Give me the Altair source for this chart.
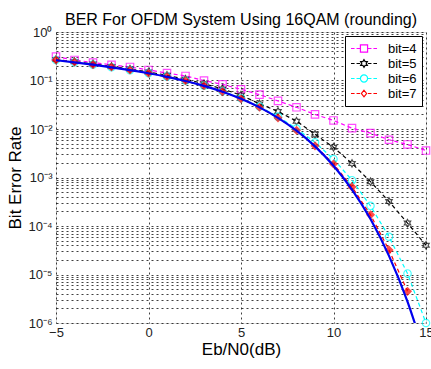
import altair as alt
import pandas as pd

# ---------------- data ----------------
snr_db = [-5, -4, -3, -2, -1, 0, 1, 2, 3, 4, 5, 6, 7, 8, 9, 10, 11, 12, 13, 14, 15]

series_names = ["bit=4", "bit=5", "bit=6", "bit=7"]

ber_bit4 = [0.31, 0.265, 0.235, 0.21, 0.19, 0.165, 0.142, 0.124, 0.100, 0.083,
            0.066, 0.051, 0.038, 0.028, 0.020, 0.0150, 0.0104, 0.0082, 0.0060,
            0.0048, 0.0036]
ber_bit5 = [0.27, 0.245, 0.22, 0.195, 0.172, 0.15, 0.128, 0.106, 0.086, 0.067,
            0.050, 0.033, 0.023, 0.0145, 0.0078, 0.0042, 0.00195, 0.00082,
            0.00032, 0.000115, 0.00004]
ber_bit6 = [0.264, 0.238, 0.212, 0.188, 0.164, 0.142, 0.12, 0.099, 0.078, 0.06,
            0.043, 0.029, 0.018, 0.0102, 0.0053, 0.0024, 0.00088, 0.00026,
            0.00006, 0.0000105, 0.000001]
ber_bit7 = [0.265, 0.24, 0.213, 0.19, 0.165, 0.142, 0.12, 0.099, 0.078, 0.059,
            0.042, 0.028, 0.017, 0.0094, 0.0045, 0.0019, 0.00064, 0.00017,
            0.000032, 0.0000045, None]
ber_theory = [0.262, 0.2367, 0.2117, 0.1872, 0.1637, 0.1409, 0.1190, 0.0978,
              0.0775, 0.0586, 0.0419, 0.0279, 0.01697, 0.00925, 0.00439,
              0.00175, 0.000565, 0.000139, 0.0000242, 0.00000277, 0.000000184]

x_tick_values = [-5, 0, 5, 10, 15]
y_grid_values = [k * 10.0 ** d for d in range(-6, 0) for k in range(1, 10)] + [1.0]

# ---------------- styles ----------------
series_colors = ["#ff00ff", "#000000", "#00ffff", "#ff0000"]
hexagram = ("M0,-1L-0.289,-0.5L-0.866,-0.5L-0.577,0L-0.866,0.5L-0.289,0.5L0,1"
            "L0.289,0.5L0.866,0.5L0.577,0L0.866,-0.5L0.289,-0.5Z")
marker_shapes = ["square", hexagram, "circle", "diamond"]
marker_fills = ["transparent", "transparent", "transparent", "#ff0000"]

dash_line = "M-1,0H-0.45M-0.15,0H0.4M1.6,0H2.15M2.45,0H3"
legend_shapes = [
    dash_line + "M0.45,-0.55H1.55V0.55H0.45Z",
    dash_line + ("M1,-0.6L0.827,-0.3L0.48,-0.3L0.654,0L0.48,0.3L0.827,0.3L1,0.6"
                 "L1.173,0.3L1.52,0.3L1.346,0L1.52,-0.3L1.173,-0.3Z"),
    dash_line + "M1.55,0A0.55,0.55,0,1,1,0.45,0A0.55,0.55,0,1,1,1.55,0Z",
    dash_line + "M1,-0.5L1.4,0L1,0.5L0.6,0Z",
]

FONT = "Liberation Sans"

rows = []
for name, vals in zip(series_names, [ber_bit4, ber_bit5, ber_bit6, ber_bit7]):
    for x, v in zip(snr_db, vals):
        if v is not None:
            rows.append({"snr": x, "ber": v, "series": name})
sim = pd.DataFrame(rows)
theory = pd.DataFrame({"snr": snr_db, "ber": ber_theory})

label_expr = (
    "abs(log(datum.value)/LN10 - round(log(datum.value)/LN10)) < 0.01 ? "
    "'10' + ['\u2070','\u207b\u00b9','\u207b\u00b2','\u207b\u00b3','\u207b\u2074','\u207b\u2075','\u207b\u2076']"
    "[-round(log(datum.value)/LN10)] : ''"
)

X = alt.X("snr:Q", scale=alt.Scale(domain=[-5, 15], nice=False, zero=False),
          axis=alt.Axis(values=x_tick_values, title="Eb/N0(dB)", grid=True,
                        gridDash=[2, 3], gridColor="#000000", gridOpacity=0.75,
                        ticks=False, domain=False, labelFontSize=13, labelFlush=False,
                        labelFont=FONT, labelColor="#222222", labelPadding=3,
                        titleFont=FONT, titleFontSize=17, titleFontWeight="normal",
                        titleColor="#000000", titlePadding=2))
Y = alt.Y("ber:Q", scale=alt.Scale(type="log", domain=[1e-6, 1], nice=False),
          axis=alt.Axis(values=y_grid_values, labelExpr=label_expr, title="Bit Error Rate",
                        grid=True, gridDash=[2, 3], gridColor="#000000", gridOpacity=0.75,
                        ticks=False, domain=False, labelOverlap=False, labelFontSize=13,
                        labelFont=FONT, labelColor="#222222", labelPadding=4,
                        titleFont=FONT, titleFontSize=17, titleFontWeight="normal",
                        titleColor="#000000", titlePadding=3))

color_scale = alt.Scale(domain=series_names, range=series_colors)

lines = alt.Chart(sim).mark_line(strokeDash=[4, 3], strokeWidth=1.2, clip=True).encode(
    x=X, y=Y,
    color=alt.Color("series:N", scale=color_scale, legend=None),
    detail="series:N",
)

markers = alt.Chart(sim).mark_point(filled=False, size=55, strokeWidth=1.2).encode(
    x=X, y=Y,
    color=alt.Color("series:N", scale=color_scale, legend=None),
    shape=alt.Shape("series:N", scale=alt.Scale(domain=series_names, range=marker_shapes), legend=None),
    fill=alt.Fill("series:N", scale=alt.Scale(domain=series_names, range=marker_fills), legend=None),
)

legend_props = dict(orient="top-right", offset=4, padding=5,
                    strokeColor="#000000", fillColor="#ffffff",
                    symbolSize=169, symbolOpacity=1, symbolStrokeWidth=1.2,
                    labelFont=FONT, labelFontSize=13, labelColor="#000000",
                    labelOffset=23, rowPadding=0, title=None)

legend_layer = alt.Chart(sim).mark_point(filled=False, size=169, opacity=0).encode(
    x=X, y=Y,
    color=alt.Color("series:N", scale=color_scale, title=None, legend=alt.Legend(**legend_props)),
    shape=alt.Shape("series:N", scale=alt.Scale(domain=series_names, range=legend_shapes),
                    title=None, legend=alt.Legend(**legend_props)),
)

theory_line = alt.Chart(theory).mark_line(color="#0000ee", strokeWidth=2.2, clip=True,
                                          interpolate="monotone").encode(x=X, y=Y)

chart = alt.layer(lines, markers, theory_line, legend_layer).resolve_scale(
    color="independent", shape="independent"
).properties(
    width=370, height=291,
    title=alt.TitleParams("BER For OFDM System Using 16QAM (rounding)", font=FONT,
                          fontSize=16, fontWeight="normal", color="#000000",
                          anchor="middle", offset=8, dy=10, frame="group"),
    autosize=alt.AutoSizeParams(type="none"),
    padding={"left": 56, "top": 32, "right": 5, "bottom": 46},
).configure_view(stroke="#000000", strokeWidth=1).configure(background="#ffffff")

chart.save("out.html", embed_options={"renderer": "svg", "actions": False})
